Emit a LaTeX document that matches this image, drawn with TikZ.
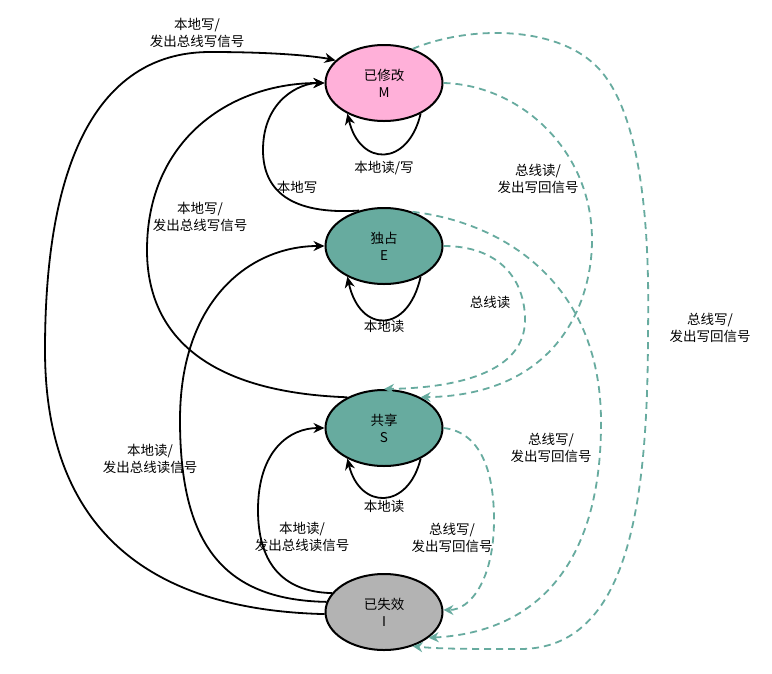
\documentclass[tikz,border=0pt]{standalone}
\usepackage{fontspec}
\setmainfont{Noto Sans CJK SC}
\usepackage{tikz}
\usetikzlibrary{shapes.geometric, arrows.meta, positioning}
\definecolor{m_pink}{HTML}{FFB0D9}
\definecolor{es_teal}{HTML}{67AB9F}
\definecolor{i_gray}{HTML}{B3B3B3}
\tikzset{
  state_node/.style={ellipse, draw=black, line width=2pt, minimum width=117pt, minimum height=76pt, inner sep=0pt, align=center, font=\fontsize{13.5}{17}\selectfont},
  state_m/.style={state_node, fill=m_pink},
  state_es/.style={state_node, fill=es_teal},
  state_i/.style={state_node, fill=i_gray},
  label_text/.style={align=center, font=\fontsize{13.5}{17.5}\selectfont},
  local_arrow/.style={-{Stealth[length=11pt,width=10pt]}, line width=1.8pt, black},
  bus_arrow/.style={-{Stealth[length=10pt,width=10pt]}, line width=1.8pt, es_teal, dash pattern=on 7pt off 5pt}
}

\begin{document}
\begin{tikzpicture}[x=1pt, y=-1pt]
    \useasboundingbox (0,0) rectangle (772,673);

    % the four states
    \node[state_m](mod) at (384,83) {已修改\\M};
    \node[state_es](excl) at (384,246) {独占\\E};
    \node[state_es](shared) at (384,428) {共享\\S};
    \node[state_i](inval) at (384,612) {已失效\\I};

    % local transitions (solid)
    \draw[local_arrow] (inval.182) .. controls (150,610) and (45,530) .. (45,350)
        .. controls (45,140) and (110,52) .. (210,52) .. controls (290,52) and (325,58) .. (mod.155);
    \draw[local_arrow] (shared.140) .. controls (200,392) and (147,330) .. (147,250)
        .. controls (147,140) and (230,83) .. (mod.west);
    \draw[local_arrow] (excl.125) .. controls (290,215) and (263,190) .. (263,150)
        .. controls (263,100) and (300,83) .. (mod.west);
    \draw[local_arrow] (inval.170) .. controls (220,600) and (180,540) .. (180,420)
        .. controls (180,300) and (250,246) .. (excl.west);
    \draw[local_arrow] (inval.160) .. controls (280,592) and (258,560) .. (258,510)
        .. controls (258,450) and (290,428) .. (shared.west);

    % self loops
    \draw[local_arrow] (mod.-40) .. controls (408,167) and (360,167) .. (mod.-140);
    \draw[local_arrow] (excl.-40) .. controls (408,334) and (360,334) .. (excl.-140);
    \draw[local_arrow] (shared.-40) .. controls (408,510) and (360,510) .. (shared.-140);

    % bus transitions (dashed)
    \draw[bus_arrow] (mod.50) .. controls (470,25) and (560,25) .. (600,70)
        .. controls (640,115) and (650,220) .. (648,330)
        .. controls (648,500) and (630,649) .. (520,649) .. controls (470,649) and (440,649) .. (inval.-50);
    \draw[bus_arrow] (mod.east) .. controls (520,85) and (592,150) .. (592,240)
        .. controls (592,300) and (560,395) .. (shared.40);
    \draw[bus_arrow] (excl.east) .. controls (500,246) and (525,280) .. (525,320)
        .. controls (525,375) and (450,388) .. (shared.north);
    \draw[bus_arrow] (excl.50) .. controls (500,222) and (600,280) .. (601,420)
        .. controls (602,560) and (540,632) .. (inval.-30);
    \draw[bus_arrow] (shared.east) .. controls (480,432) and (494,470) .. (494,520)
        .. controls (494,580) and (470,610) .. (inval.2);

    % labels
    \node[label_text](lbl_im) at (197,33) {本地写/\\发出总线写信号};
    \node[label_text](lbl_sm) at (200,217) {本地写/\\发出总线写信号};
    \node[label_text](lbl_em) at (297,187) {本地写};
    \node[label_text](lbl_ie) at (150,459) {本地读/\\发出总线读信号};
    \node[label_text](lbl_is) at (302,537) {本地读/\\发出总线读信号};
    \node[label_text](lbl_mm) at (384,168) {本地读/写};
    \node[label_text](lbl_ee) at (384,326) {本地读};
    \node[label_text](lbl_ss) at (384,506) {本地读};
    \node[label_text](lbl_ms) at (538,179) {总线读/\\发出写回信号};
    \node[label_text](lbl_es) at (490,302) {总线读};
    \node[label_text](lbl_ei) at (551,448) {总线写/\\发出写回信号};
    \node[label_text](lbl_si) at (452,538) {总线写/\\发出写回信号};
    \node[label_text](lbl_mi) at (710,328) {总线写/\\发出写回信号};
\end{tikzpicture}
\end{document}
